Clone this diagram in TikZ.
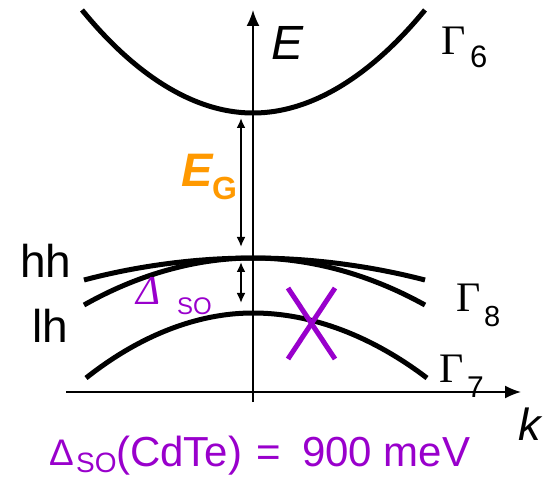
\documentclass[tikz,border=0pt]{standalone}
\usepackage{fontspec}
\setmainfont{Liberation Sans}
\newfontfamily\serifG{Liberation Serif}
\usetikzlibrary{arrows.meta}
\definecolor{orng}{RGB}{255,153,0}
\definecolor{purp}{RGB}{153,0,204}
\newcommand{\fs}[1]{\fontsize{#1}{#1}\selectfont}
\begin{document}
\begin{tikzpicture}[x=1pt,y=-1pt,
  band/.style={line width=5pt},
  axis/.style={line width=1.7pt,-{Latex[length=16pt,width=13pt]}},
  gaparrow/.style={line width=2.5pt,{Latex[length=10pt,width=9pt]}-{Latex[length=10pt,width=9pt]}},
  lbl/.style={inner sep=0pt,anchor=base west},
  cross/.style={purp,line width=5pt}]
\useasboundingbox (0,0) rectangle (546,478);
% axes
\coordinate (kstart) at (66,392);
\coordinate (kend) at (521,392);
\coordinate (Estart) at (253,402);
\coordinate (Eend) at (253,10);
\draw[axis] (kstart) -- (kend);
\draw[axis] (Estart) -- (Eend);
% bands
\draw[band] (82,10) parabola bend (253,113) (425,10);
\draw[band] (84,280) parabola bend (253,258) (425,280);
\draw[band] (84,305) parabola bend (253,258) (425,305);
\draw[band] (86,378) parabola bend (253,313) (427,378);
% gap arrows
\coordinate (g1) at (241,118);
\coordinate (g2) at (241,247);
\coordinate (s1) at (241,262);
\coordinate (s2) at (241,303);
\draw[gaparrow] (g1) -- (g2);
\draw[gaparrow] (s1) -- (s2);
% cross
\coordinate (x1) at (288,288);
\coordinate (x2) at (335,359);
\coordinate (x3) at (335,288);
\coordinate (x4) at (288,359);
\draw[cross] (x1) -- (x2);
\draw[cross] (x3) -- (x4);
% labels
\node[lbl] (E) at (271,60) {\fs{48}\itshape E};
\node[lbl] (k) at (518,440) {\fs{45}\itshape k};
\node[lbl] (G6) at (441,55) {\serifG\fs{42}Γ};
\node[lbl] (G6s) at (470,68) {\fs{31}6};
\node[lbl] (G8) at (456,312) {\serifG\fs{42}Γ};
\node[lbl] (G8s) at (484,326) {\fs{29}8};
\node[lbl] (G7) at (439,382) {\serifG\fs{42}Γ};
\node[lbl] (G7s) at (467,397) {\fs{30}7};
\node[lbl] (hh) at (20,278) {\fs{46}hh};
\node[lbl] (lh) at (32,342) {\fs{46}lh};
\node[lbl,text=orng] (EG) at (181,187) {\fs{47}\bfseries\itshape E};
\node[lbl,text=orng] (EGs) at (212,200) {\fs{32}\bfseries G};
\node[lbl,text=purp] (D) at (136,305) {\serifG\fs{41}\itshape Δ};
\node[lbl,text=purp] (Ds) at (177,315) {\fs{24}SO};
\node[lbl,text=purp] (B1) at (49,465) {\fs{37}Δ};
\node[lbl,text=purp] (B2) at (76,472) {\fs{28}SO};
\node[lbl,text=purp] (B3) at (116,466) {\fs{42}(CdTe)};
\node[lbl,text=purp] (B4) at (256,466) {\fs{42}=};
\node[lbl,text=purp] (B5) at (302,466) {\fs{42}900 meV};
\end{tikzpicture}
\end{document}
